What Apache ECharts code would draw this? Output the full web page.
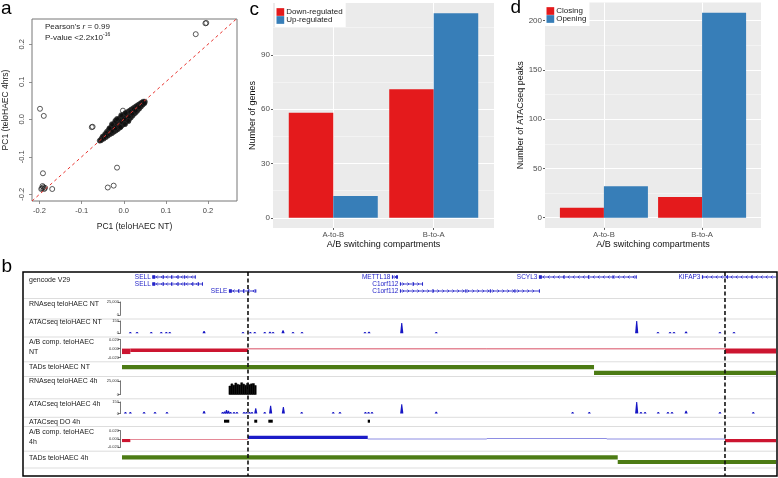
<!DOCTYPE html>
<html><head><meta charset="utf-8">
<script src="https://cdn.jsdelivr.net/npm/echarts@6/dist/echarts.min.js"></script>
<style>html,body{margin:0;padding:0;background:#fff}#c{width:778px;height:478px}</style>
</head><body><div id="c"></div>
<script>
const FONT = 'Liberation Sans';

// ---------------- Panel a : PC1 scatter ----------------
const pc1Cloud = [
  [-0.057,-0.057],[-0.053,-0.052],[-0.049,-0.049],[-0.045,-0.044],[-0.041,-0.040],[-0.037,-0.036],[-0.033,-0.032],
  [-0.029,-0.028],[-0.025,-0.024],[-0.021,-0.020],[-0.017,-0.016],[-0.013,-0.012],[-0.009,-0.009],[-0.005,-0.005],
  [-0.001,-0.001],[0.003,0.003],[0.007,0.007],[0.011,0.010],[0.015,0.014],[0.019,0.018],[0.023,0.022],[0.027,0.026],
  [0.031,0.030],[0.035,0.033],[0.039,0.037],[0.043,0.041],[0.047,0.044],[0.050,0.047],
  [-0.050,-0.046],[-0.044,-0.039],[-0.040,-0.033],[-0.035,-0.027],[-0.030,-0.021],[-0.026,-0.015],[-0.022,-0.011],
  [-0.018,-0.006],[-0.014,-0.002],[-0.010,0.002],[-0.006,0.006],[-0.002,0.010],[0.002,0.013],[0.006,0.016],
  [0.010,0.020],[0.014,0.023],[0.018,0.026],[0.022,0.029],[0.026,0.032],[0.030,0.035],[0.034,0.038],[0.038,0.041],
  [0.042,0.044],[0.046,0.047],
  [-0.054,-0.056],[-0.048,-0.052],[-0.043,-0.048],[-0.038,-0.044],[-0.033,-0.040],[-0.028,-0.037],[-0.023,-0.033],
  [-0.019,-0.030],[-0.015,-0.027],[-0.011,-0.023],[-0.007,-0.019],[-0.003,-0.015],[0.001,-0.011],[0.005,-0.007],
  [0.009,-0.003],[0.013,0.001],[0.017,0.005],[0.021,0.010],[0.025,0.015],[0.029,0.019],[0.033,0.024],[0.037,0.029],
  [0.041,0.034],[0.045,0.039],[0.049,0.043],
  [-0.031,-0.026],[-0.024,-0.019],[-0.016,-0.012],[-0.008,-0.004],[0.000,0.004],[0.008,0.011],[0.016,0.019],
  [0.024,0.027],[0.032,0.035],[-0.027,-0.031],[-0.020,-0.024],[-0.012,-0.017],[-0.004,-0.008],[0.004,-0.001],
  [0.012,0.007],[0.020,0.015],[0.028,0.023],[0.036,0.032],[-0.028,-0.013],[-0.020,-0.004],[-0.034,-0.024],
  [-0.016,0.001],[-0.006,0.011],[0.004,0.017],[-0.008,-0.021],[0.003,-0.013],[0.011,-0.005]
];
const pc1Outliers = [
  [0.194,0.256],[0.196,0.257],[0.171,0.227],[-0.199,0.028],[-0.190,0.009],[-0.076,-0.021],[-0.074,-0.020],
  [-0.002,0.023],[-0.192,-0.144],[-0.016,-0.129],[-0.024,-0.177],[-0.038,-0.182],[-0.170,-0.186],
  [-0.193,-0.178],[-0.191,-0.181],[-0.196,-0.186],[-0.189,-0.186],[-0.187,-0.183],[-0.194,-0.184]
];
const pcAxisRange = [-0.218, 0.269];
const pcYRange = [-0.218, 0.2675];
const pcTicks = [-0.2, -0.1, 0, 0.1, 0.2];

// ---------------- Panels c and d : bar charts ----------------
const switchCategories = ['A-to-B', 'B-to-A'];
const genesDown = [58, 71];
const genesUp = [12, 113];
const genesTicks = [0, 30, 60, 90];
const genesMinor = [15, 45, 75, 105];
const peaksClosing = [10, 21];
const peaksOpening = [32, 208];
const peaksTicks = [0, 50, 100, 150, 200];
const peaksMinor = [25, 75, 125, 175];

// ---------------- Panel b : genome browser (kb from region start) ----------------
const regionKb = [0, 400];
const boundariesKb = [77.06, 368.8];
const genes = [ // start, end, row, strand
  [18.5,45.1,0,-1],[18.5,49.5,1,-1],[65.4,82.1,2,-1],[165.1,168.8,0,1],
  [170.0,184.1,1,1],[170.0,255.6,2,1],[255.0,314.8,0,-1],[354.7,400,0,-1]
];
const geneNames = ['SELL','SELL','SELE','METTL18','C1orf112','C1orf112','SCYL3','KIFAP3'];
const geneExons = [ // start, end, row
  [18.5,20.3,0],[25.0,25.6,0],[30.0,30.5,0],[34.0,34.5,0],[38.0,38.6,0],[44.5,45.1,0],
  [18.5,20.3,1],[25.0,25.6,1],[30.0,30.5,1],[34.0,34.5,1],[38.0,38.6,1],[43.0,43.6,1],[46.5,47.0,1],[48.9,49.5,1],
  [65.4,67.2,2],[71.0,71.6,2],[74.0,74.7,2],[77.0,77.5,2],[81.5,82.1,2],
  [165.1,165.8,0],[167.6,168.8,0],
  [170.0,170.6,1],[178.0,178.5,1],[183.5,184.1,1],
  [170.0,170.6,2],[190.0,190.4,2],[210.0,210.4,2],[225.0,225.5,2],[240.0,240.4,2],[255.0,255.6,2],
  [255.0,256.8,0],[270.0,270.4,0],[285.0,285.4,0],[300.0,300.4,0],[314.2,314.8,0],
  [354.7,355.4,0],[370.0,370.4,0],[385.0,385.4,0]
];
const atacNT = [ // position, signal (0-150)
  [5.1,12],[9.2,10],[17.9,12],[24.0,10],[27.1,12],[29.2,10],[50.2,28],[74.0,10],[78.5,12],[81.2,10],
  [87.3,12],[90.5,18],[92.4,14],[98.5,38],[104.6,12],[110.1,10],[148.6,14],[151.1,18],[171.1,125],
  [192.2,14],[314.8,150],[327.8,10],[335.2,10],[337.6,10],[345.0,22],[365.7,10],[374.3,10]
];
const atac4h = [
  [2.1,10],[5.1,12],[13.5,10],[20.2,10],[27.5,10],[50.2,32],[61.5,15],[62.7,25],[63.9,45],[65.1,35],
  [66.4,15],[68.5,10],[70.3,10],[74.6,10],[76.1,12],[78.0,14],[79.5,18],[81.8,70],[87.3,12],[90.9,100],
  [98.7,85],[109.9,12],[129.2,10],[133.3,10],[148.9,12],[150.8,20],[152.9,12],[171.1,120],[192.2,24],
  [275.6,10],[285.8,10],[314.8,150],[317.4,12],[319.9,12],[328.0,10],[333.9,12],[336.4,12],[345.0,35],
  [365.7,10],[386.1,10]
];
const rna4h = [ // start, end, coverage
  [65.4,66.6,15500],[66.6,67.8,19500],[67.8,69.0,17000],[69.0,70.2,21000],[70.2,71.4,18500],
  [71.4,72.6,17500],[72.6,73.8,21500],[73.8,75.0,19000],[75.0,76.2,17000],[76.2,77.4,20500],
  [77.4,78.6,18000],[78.6,79.8,19500],[79.8,81.0,20000],[81.0,82.1,16500]
];
const abNT = [ // start, end, PC1
  [0,5.1,-0.012],[5.1,77.06,-0.0075],[77.06,223.1,-0.0012],[223.1,368.8,-0.0005],[368.8,400,-0.0105]
];
const ab4h = [
  [0,5.1,-0.0075],[5.1,77.06,-0.0006],[77.06,150.3,0.0078],[150.3,223.1,0.0006],
  [223.1,296.5,0.0014],[296.5,368.8,0.0006],[368.8,400,-0.0078]
];
const tadsNT = [[0,288.7,0],[288.7,400,1]];
const tads4h = [[0,303.2,0],[303.2,400,1]];
const atacDO4h = [[62.4,65.6],[80.9,82.7],[89.5,92.2],[150.3,151.7]];

const trackNames = ['gencode V29','RNAseq teloHAEC NT','ATACseq teloHAEC NT','A/B comp. teloHAEC\nNT',
  'TADs teloHAEC NT','RNAseq teloHAEC 4h','ATACseq teloHAEC 4h','ATACseq DO 4h','A/B comp. teloHAEC\n4h','TADs teloHAEC 4h'];

// ---------------- layout (pixels) ----------------
const trackLabelY = [280.5, 304, 322.5, 347.2, 367, 381, 404, 421.7, 436.8, 458];
const separatorY = [298.5, 319, 337, 361.8, 376.5, 398.8, 417.3, 426.5, 451.2, 468];
const BL = 122, BW = 654;
const trackGrids = [
  {top:277, height:14},      // 3 genes
  {top:302, height:13},      // 4 RNA NT
  {top:321, height:12.3},    // 5 ATAC NT
  {top:339.5, height:18.2},  // 6 A/B NT
  {top:367.2, height:5.6},   // 7 TADs NT
  {top:380.8, height:13.7},  // 8 RNA 4h
  {top:402, height:11.5},    // 9 ATAC 4h
  {top:419.7, height:3},     // 10 DO
  {top:430.7, height:16.6},  // 11 A/B 4h
  {top:457.3, height:4.7},   // 12 TADs 4h
  {top:272, height:204}      // 13 full (boundaries)
];

const RED = '#e41a1c', BLUE = '#377eb8', PANEL = '#ebebeb';
const GENE_BLUE = '#2424c8', ATAC_BLUE = '#1616c4', AB_RED = '#cc1530', AB_BLUE = '#1c1cc8', TAD_GREEN = '#4c7b14';

// ---------------- renderers ----------------
function renderGene(params, api) {
  const s = api.coord([api.value(0), api.value(2)]);
  const e = api.coord([api.value(1), api.value(2)]);
  const strand = api.value(3);
  const children = [{type:'line', shape:{x1:s[0], y1:s[1], x2:e[0], y2:e[1]}, style:{stroke:GENE_BLUE, lineWidth:0.9}}];
  for (let x = s[0] + 4; x < e[0] - 2; x += 5) {
    const d = strand < 0 ? 1.5 : -1.5;
    children.push({type:'polyline', shape:{points:[[x + d, s[1] - 1.5], [x, s[1]], [x + d, s[1] + 1.5]]},
      style:{stroke:GENE_BLUE, lineWidth:0.8, fill:null}});
  }
  children.push({type:'text', style:{x:s[0] - 1.5, y:s[1] + 0.3, text:geneNames[params.dataIndex], fill:GENE_BLUE,
    fontSize:6.5, fontFamily:FONT, align:'right', verticalAlign:'middle'}});
  return {type:'group', children};
}
function renderExon(params, api) {
  const s = api.coord([api.value(0), api.value(2)]);
  const e = api.coord([api.value(1), api.value(2)]);
  return {type:'rect', shape:{x:s[0], y:s[1] - 1.8, width:Math.max(e[0] - s[0], 1), height:3.6}, style:{fill:GENE_BLUE}};
}
function renderPeak(params, api) {
  const b = api.coord([api.value(0), 0]);
  const t = api.coord([api.value(0), api.value(1)]);
  const h = Math.max(b[1] - t[1], 1.4);
  return {type:'polygon', shape:{points:[[b[0] - 1.6, b[1]], [b[0] - 0.5, b[1] - h], [b[0] + 0.5, b[1] - h], [b[0] + 1.6, b[1]]]},
    style:{fill:ATAC_BLUE}};
}
function makeRect(colorFn, seam) {
  return function (params, api) {
    const p0 = api.coord([api.value(0), 0]);
    const p1 = api.coord([api.value(1), api.value(2)]);
    const y = Math.min(p0[1], p1[1]);
    const h = Math.abs(p1[1] - p0[1]);
    const c = colorFn(api.value(2));
    return {type:'rect', shape:{x:p0[0], y, width:p1[0] - p0[0], height:Math.max(h, 0.6)},
      style:{fill:c, stroke:seam ? c : null, lineWidth:seam ? 0.5 : 0}};
  };
}
function renderTad(params, api) {
  const a = api.coord([api.value(0), api.value(2)]);
  const b = api.coord([api.value(1), api.value(2)]);
  return {type:'rect', shape:{x:a[0], y:a[1] - 2.1, width:b[0] - a[0], height:4.2}, style:{fill:TAD_GREEN}};
}
function renderBox(params, api) {
  const a = api.coord([api.value(0), 1]);
  const b = api.coord([api.value(1), 0]);
  return {type:'rect', shape:{x:a[0], y:a[1], width:b[0] - a[0], height:b[1] - a[1]}, style:{fill:'#000'}};
}
function renderBoundary(params, api) {
  const a = api.coord([api.value(0), 1]);
  const b = api.coord([api.value(0), 0]);
  return {type:'line', shape:{x1:a[0], y1:a[1], x2:b[0], y2:b[1]}, style:{stroke:'#111', lineWidth:1.6, lineDash:[4, 2.5]}};
}

// ---------------- grids & axes ----------------
const grids = [
  {left:32, top:19, width:205, height:182, show:true, borderColor:'#777', borderWidth:1, backgroundColor:'transparent'},
  {left:273, top:3, width:221, height:225, show:true, borderWidth:0, backgroundColor:PANEL},
  {left:545, top:2.6, width:216, height:225.3, show:true, borderWidth:0, backgroundColor:PANEL}
];
trackGrids.forEach(g => grids.push({left:BL, width:BW, top:g.top, height:g.height, show:false}));

const labelGray = '#4d4d4d';
const xAxes = [
  {gridIndex:0, type:'value', min:pcAxisRange[0], max:pcAxisRange[1],
    axisLine:{show:false, onZero:false}, splitLine:{show:false},
    axisTick:{show:true, length:3, customValues:pcTicks, lineStyle:{color:'#777', width:0.8}},
    axisLabel:{customValues:pcTicks, formatter:v => v.toFixed(1), fontSize:7.5, color:'#444', margin:6, fontFamily:FONT},
    name:'PC1 (teloHAEC NT)', nameLocation:'middle', nameGap:21.5, nameTextStyle:{fontSize:8.5, color:'#222', fontFamily:FONT}},
  {gridIndex:1, type:'value', min:0.4, max:2.6,
    axisLine:{show:false, onZero:false},
    axisTick:{show:true, length:2, customValues:[1, 2], lineStyle:{color:'#333', width:0.8}},
    axisLabel:{customValues:[1, 2], formatter:v => switchCategories[Math.round(v) - 1], fontSize:7.7, color:labelGray, margin:3, fontFamily:FONT},
    splitLine:{show:true, lineStyle:{color:'#fff', width:1}},
    name:'A/B switching compartments', nameLocation:'middle', nameGap:10, nameTextStyle:{fontSize:9, color:'#111', fontFamily:FONT}},
  {gridIndex:2, type:'value', min:0.4, max:2.6,
    axisLine:{show:false, onZero:false},
    axisTick:{show:true, length:2, customValues:[1, 2], lineStyle:{color:'#333', width:0.8}},
    axisLabel:{customValues:[1, 2], formatter:v => switchCategories[Math.round(v) - 1], fontSize:7.7, color:labelGray, margin:3, fontFamily:FONT},
    splitLine:{show:true, lineStyle:{color:'#fff', width:1}},
    name:'A/B switching compartments', nameLocation:'middle', nameGap:10, nameTextStyle:{fontSize:9, color:'#111', fontFamily:FONT}}
];
trackGrids.forEach((g, i) => xAxes.push({gridIndex:3 + i, type:'value', min:regionKb[0], max:regionKb[1], show:false}));

function scaleAxis(gi, min, max, ticks, fmt) {
  return {gridIndex:gi, type:'value', min, max, position:'left', offset:1.5,
    axisLine:{show:true, onZero:false, lineStyle:{color:'#555', width:0.8}},
    axisTick:{show:true, length:2.5, customValues:ticks, lineStyle:{color:'#555', width:0.8}},
    axisLabel:{customValues:ticks, formatter:fmt, fontSize:4, color:'#333', margin:1.5, fontFamily:FONT},
    splitLine:{show:false}};
}
function hiddenAxis(gi, min, max, inverse) {
  return {gridIndex:gi, type:'value', min, max, inverse:!!inverse, show:false};
}
const yAxes = [
  {gridIndex:0, type:'value', min:pcYRange[0], max:pcYRange[1],
    axisLine:{show:false, onZero:false}, splitLine:{show:false},
    axisTick:{show:true, length:3, customValues:pcTicks, lineStyle:{color:'#777', width:0.8}},
    axisLabel:{customValues:pcTicks, formatter:v => v.toFixed(1), rotate:90, fontSize:7.5, color:'#444', margin:6, fontFamily:FONT},
    name:'PC1 (teloHAEC 4hrs)', nameLocation:'middle', nameGap:21.5, nameTextStyle:{fontSize:8.5, color:'#222', fontFamily:FONT}},
  {gridIndex:1, type:'value', min:-5.65, max:118.65,
    axisLine:{show:false, onZero:false},
    axisTick:{show:true, length:2, customValues:genesTicks, lineStyle:{color:'#333', width:0.8}},
    axisLabel:{customValues:genesTicks, fontSize:8, color:labelGray, margin:3, fontFamily:FONT},
    splitLine:{show:true, lineStyle:{color:'#fff', width:1}},
    name:'Number of genes', nameLocation:'middle', nameGap:14, nameTextStyle:{fontSize:9, color:'#111', fontFamily:FONT}},
  {gridIndex:2, type:'value', min:-10.4, max:218.4,
    axisLine:{show:false, onZero:false},
    axisTick:{show:true, length:2, customValues:peaksTicks, lineStyle:{color:'#333', width:0.8}},
    axisLabel:{customValues:peaksTicks, fontSize:8, color:labelGray, margin:3, fontFamily:FONT},
    splitLine:{show:true, lineStyle:{color:'#fff', width:1}},
    name:'Number of ATACseq peaks', nameLocation:'middle', nameGap:17, nameTextStyle:{fontSize:9, color:'#111', fontFamily:FONT}},
  hiddenAxis(3, 0, 2, true),
  scaleAxis(4, 0, 25000, [0, 25000], v => v.toLocaleString('en-US')),
  scaleAxis(5, 0, 150, [0, 150], v => String(v)),
  scaleAxis(6, -0.02, 0.02, [-0.02, 0, 0.02], v => v.toFixed(3)),
  hiddenAxis(7, 0, 1, true),
  scaleAxis(8, 0, 25000, [0, 25000], v => v.toLocaleString('en-US')),
  scaleAxis(9, 0, 150, [0, 150], v => String(v)),
  hiddenAxis(10, 0, 1, false),
  scaleAxis(11, -0.02, 0.02, [-0.02, 0, 0.02], v => v.toFixed(3)),
  hiddenAxis(12, 0, 1, true),
  hiddenAxis(13, 0, 1, false),
  {gridIndex:1, type:'value', min:-5.65, max:118.65, position:'left',
    axisLine:{show:false, onZero:false}, axisTick:{show:false, customValues:genesMinor}, axisLabel:{show:false, customValues:genesMinor},
    splitLine:{show:true, lineStyle:{color:'#fff', width:0.5, opacity:0.8}}},
  {gridIndex:2, type:'value', min:-10.4, max:218.4, position:'left',
    axisLine:{show:false, onZero:false}, axisTick:{show:false, customValues:peaksMinor}, axisLabel:{show:false, customValues:peaksMinor},
    splitLine:{show:true, lineStyle:{color:'#fff', width:0.5, opacity:0.8}}}
];

function identityLine() { return [[pcAxisRange[0], pcAxisRange[0]], [pcAxisRange[1], pcAxisRange[1]]]; }

// ---------------- series ----------------
const series = [
  {type:'scatter', name:'PC1 cloud', xAxisIndex:0, yAxisIndex:0, data:pc1Cloud, symbol:'circle', symbolSize:5,
    itemStyle:{color:'#0d0d0d', borderColor:'#2a2a2a', borderWidth:0.8}, z:2},
  {type:'scatter', name:'PC1', xAxisIndex:0, yAxisIndex:0, data:pc1Outliers, symbol:'circle', symbolSize:5,
    itemStyle:{color:'rgba(0,0,0,0)', borderColor:'#1a1a1a', borderWidth:0.9}, z:2},
  {type:'line', name:'identity', xAxisIndex:0, yAxisIndex:0, data:identityLine(), showSymbol:false, symbol:'none',
    lineStyle:{color:'#e8332e', width:1, type:[3, 3]}, z:4},
  {type:'bar', name:'Down-regulated', xAxisIndex:1, yAxisIndex:1, data:switchCategories.map((c, i) => [i + 1, genesDown[i]]),
    barWidth:44.5, barGap:'0%', itemStyle:{color:RED}},
  {type:'bar', name:'Up-regulated', xAxisIndex:1, yAxisIndex:1, data:switchCategories.map((c, i) => [i + 1, genesUp[i]]),
    barWidth:44.5, barGap:'0%', itemStyle:{color:BLUE}},
  {type:'bar', name:'Closing', xAxisIndex:2, yAxisIndex:2, data:switchCategories.map((c, i) => [i + 1, peaksClosing[i]]),
    barWidth:44, barGap:'0%', itemStyle:{color:RED}},
  {type:'bar', name:'Opening', xAxisIndex:2, yAxisIndex:2, data:switchCategories.map((c, i) => [i + 1, peaksOpening[i]]),
    barWidth:44, barGap:'0%', itemStyle:{color:BLUE}},
  {type:'custom', xAxisIndex:3, yAxisIndex:3, data:genes, renderItem:renderGene, encode:{x:[0, 1], y:2}, clip:false},
  {type:'custom', xAxisIndex:3, yAxisIndex:3, data:geneExons, renderItem:renderExon, encode:{x:[0, 1], y:2}, clip:false},
  {type:'custom', xAxisIndex:5, yAxisIndex:5, data:atacNT, renderItem:renderPeak, encode:{x:0, y:1}},
  {type:'custom', xAxisIndex:6, yAxisIndex:6, data:abNT, renderItem:makeRect(v => v < 0 ? AB_RED : AB_BLUE, false), encode:{x:[0, 1], y:2}},
  {type:'custom', xAxisIndex:7, yAxisIndex:7, data:tadsNT, renderItem:renderTad, encode:{x:[0, 1], y:2}},
  {type:'custom', xAxisIndex:8, yAxisIndex:8, data:rna4h, renderItem:makeRect(() => '#000', true), encode:{x:[0, 1], y:2}},
  {type:'custom', xAxisIndex:9, yAxisIndex:9, data:atac4h, renderItem:renderPeak, encode:{x:0, y:1}},
  {type:'custom', xAxisIndex:10, yAxisIndex:10, data:atacDO4h, renderItem:renderBox, encode:{x:[0, 1]}},
  {type:'custom', xAxisIndex:11, yAxisIndex:11, data:ab4h, renderItem:makeRect(v => v < 0 ? AB_RED : AB_BLUE, false), encode:{x:[0, 1], y:2}},
  {type:'custom', xAxisIndex:12, yAxisIndex:12, data:tads4h, renderItem:renderTad, encode:{x:[0, 1], y:2}},
  {type:'custom', xAxisIndex:13, yAxisIndex:13, data:boundariesKb.map(b => [b]), renderItem:renderBoundary, encode:{x:0}, z:10}
];

// ---------------- graphics (frame, labels, letters) ----------------
const graphic = [];
const letter = (t, x, y) => ({type:'text', x, y, z:50, style:{text:t, fontSize:19, fontFamily:FONT, fill:'#000', verticalAlign:'middle'}});
graphic.push(letter('a', 1, 8.5), letter('c', 249.5, 9.5), letter('d', 510.5, 7.5), letter('b', 1.5, 266.5));
graphic.push({type:'text', x:45, y:26.7, z:50, style:{text:"Pearson's {i|r} = 0.99", fontSize:8, fontFamily:FONT, fill:'#222', verticalAlign:'middle',
  rich:{i:{fontStyle:'italic', fontSize:8, fontFamily:FONT, fill:'#222'}}}});
graphic.push({type:'text', x:45, y:37.5, z:50, style:{text:'P-value <2.2x10{s|-16}', fontSize:8, fontFamily:FONT, fill:'#222', verticalAlign:'middle',
  rich:{s:{fontSize:5, fontFamily:FONT, fill:'#222', verticalAlign:'top', lineHeight:10}}}});
separatorY.forEach(y => graphic.push({type:'line', z:0, shape:{x1:24, y1:y, x2:776, y2:y}, style:{stroke:'#d4d4d4', lineWidth:0.8}}));
trackNames.forEach((t, i) => graphic.push({type:'text', x:29, y:trackLabelY[i], z:50,
  style:{text:t, fontSize:7, lineHeight:9.7, fontFamily:FONT, fill:'#222', verticalAlign:'middle'}}));
graphic.push({type:'rect', z:60, shape:{x:23, y:272, width:754, height:204}, style:{fill:null, stroke:'#000', lineWidth:1.5}});

const option = {
  animation:false,
  backgroundColor:'#fff',
  textStyle:{fontFamily:FONT},
  grid:grids, xAxis:xAxes, yAxis:yAxes, series, graphic,
  legend:[
    {data:['Down-regulated', 'Up-regulated'], left:275, top:2, orient:'vertical', icon:'rect', itemWidth:7.7, itemHeight:7.7,
      itemGap:0, padding:[6, 3, 3, 1.5], backgroundColor:'#fff', selectedMode:false,
      textStyle:{fontSize:8, color:'#222', fontFamily:FONT, lineHeight:7.7, padding:[0, 0, 0, -3]}},
    {data:['Closing', 'Opening'], left:545, top:1, orient:'vertical', icon:'rect', itemWidth:7.7, itemHeight:7.7,
      itemGap:0, padding:[6, 3, 3, 1.5], backgroundColor:'#fff', selectedMode:false,
      textStyle:{fontSize:8, color:'#222', fontFamily:FONT, lineHeight:7.7, padding:[0, 0, 0, -3]}}
  ]
};
const chart = echarts.init(document.getElementById('c'), null, {renderer:'canvas', width:778, height:478});
chart.setOption(option);
</script></body></html>
